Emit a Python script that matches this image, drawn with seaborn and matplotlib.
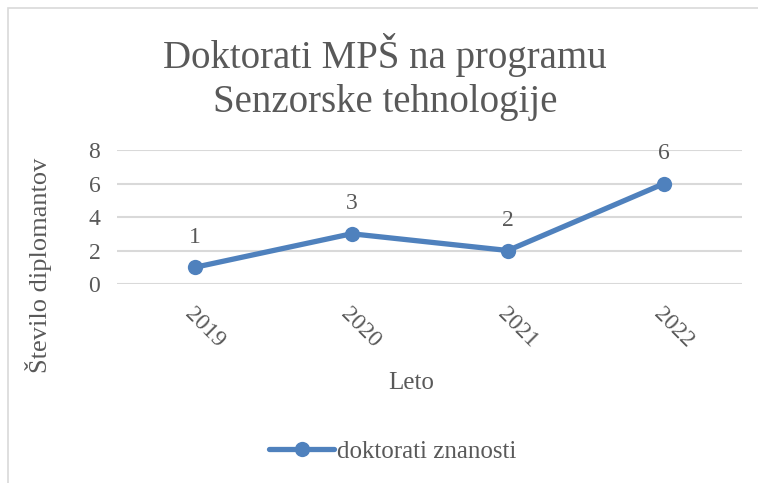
import matplotlib
matplotlib.use("Agg")
import matplotlib.pyplot as plt
import matplotlib.patches as mpatches
import seaborn as sns
import pandas as pd

# data
years = ["2019", "2020", "2021", "2022"]
doktorati = [1, 3, 2, 6]
series_name = "doktorati znanosti"
yticks = [0, 2, 4, 6, 8]

blue = "#4F81BD"
gray_text = "#595959"
grid_gray = "#D9D9D9"

sns.set_theme(style="white")
plt.rcParams['font.family'] = ['Liberation Serif', 'DejaVu Serif']

df = pd.DataFrame({"Leto": years, "Stevilo": doktorati, "serija": series_name})

fig = plt.figure(figsize=(7.58, 4.83), dpi=100)
ax = fig.add_axes([0.1544, 0.412, 0.825, 0.2774])

# outer chart border
fig.patches.append(mpatches.Rectangle((8 / 758, -0.1), 1.2, 1 - 8 / 483 + 0.1,
                                      transform=fig.transFigure, fill=False,
                                      edgecolor=grid_gray, linewidth=1.2))

sns.lineplot(data=df, x="Leto", y="Stevilo", hue="serija", palette=[blue],
             marker="o", markersize=11, markeredgewidth=0, linewidth=3.8,
             ax=ax, legend=False, sort=False)

for i, v in enumerate(doktorati):
    ax.annotate(str(v), (i, v), xytext=(0, 14), textcoords="offset points",
                ha="center", va="bottom", fontsize=17, color=gray_text)

ax.set_xlim(-0.5, 3.5)
ax.set_ylim(0, 8)
ax.set_yticks(yticks)
ax.yaxis.grid(True, color=grid_gray, linewidth=1.5)
ax.set_axisbelow(True)
for s in ax.spines.values():
    s.set_visible(False)
ax.tick_params(axis="both", length=0, labelsize=17, labelcolor=gray_text)
ax.tick_params(axis="y", pad=12)
ax.tick_params(axis="x", pad=14)
for lbl in ax.get_xticklabels():
    lbl.set_rotation(-45)
    lbl.set_ha("left")
    lbl.set_rotation_mode("anchor")

ax.set_xlabel("Leto", fontsize=18, color=gray_text)
ax.xaxis.set_label_coords(0.47, -0.66)
ax.set_ylabel("Število diplomantov", fontsize=19, color=gray_text)
ax.yaxis.set_label_coords(-0.104, 0.14)

fig.text(0.508, 0.84, "Doktorati MPŠ na programu\nSenzorske tehnologije",
         ha="center", va="center", fontsize=28, color=gray_text, linespacing=1.25)

handle = plt.Line2D([], [], color=blue, marker="o", markersize=11,
                    markeredgewidth=0, linewidth=3.8, solid_capstyle="round")
fig.legend([handle], [series_name], loc="center", bbox_to_anchor=(0.518, 0.065),
           frameon=False, fontsize=18, labelcolor=gray_text, handlelength=2.6,
           handletextpad=0.1)

fig.savefig("out.png", dpi=100)
